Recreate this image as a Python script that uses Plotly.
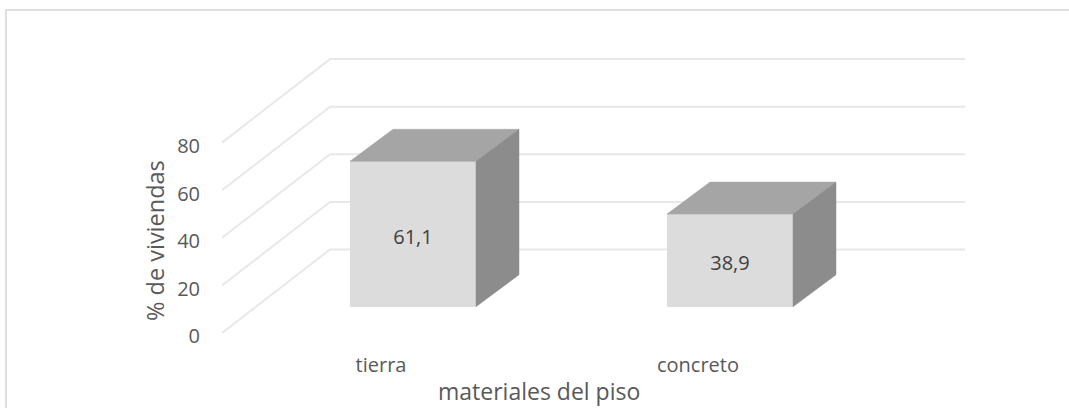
import plotly.graph_objects as go

categories = ["tierra", "concreto"]
vivienda_pct = [61.1, 38.9]
value_labels = ["61,1", "38,9"]
axis_ticks = [0, 20, 40, 60, 80]
x_title = "materiales del piso"
y_title = "% de viviendas"

W, H = 1069, 408
L, R, T, B = 222, 965, 40, 345
X_UNIT = 317.0
Y_UNIT = 2.38
X0_PX = 413.0
Y0_PX = 306.7

xr = [(L - X0_PX) / X_UNIT, (R - X0_PX) / X_UNIT]
yr = [(Y0_PX - B) / Y_UNIT, (Y0_PX - T) / Y_UNIT]

BAR_W = 126 / X_UNIT
DX, DY = 43 / X_UNIT, 32 / Y_UNIT
BACK_DY = (Y0_PX - 249.5) / Y_UNIT
FRONT_DY = (Y0_PX - 333.0) / Y_UNIT
CORNER_X = (330 - X0_PX) / X_UNIT
LABEL_SHIFT = -32 / X_UNIT
VALUE_LABEL_DROP = 5 / Y_UNIT

GRID = "#e8e8e8"
TEXT = "#595959"


def px_x(p):
    return (p - L) / (R - L)


def px_y(p):
    return (B - p) / (B - T)


xs = list(range(len(categories)))
fig = go.Figure()

fig.add_trace(go.Bar(
    x=xs, y=vivienda_pct, width=BAR_W,
    marker=dict(color="#dcdcdc", line=dict(width=0)),
    showlegend=False, hoverinfo="x+y",
))

for x, v in zip(xs, vivienda_pct):
    a, b = x - BAR_W / 2, x + BAR_W / 2
    fig.add_trace(go.Scatter(
        x=[a, b, b + DX, a + DX, a], y=[v, v, v + DY, v + DY, v],
        fill="toself", fillcolor="#a5a5a5", mode="lines",
        line=dict(width=0.5, color="#a5a5a5"), showlegend=False, hoverinfo="skip",
    ))
    fig.add_trace(go.Scatter(
        x=[b, b + DX, b + DX, b, b], y=[0, DY, v + DY, v, 0],
        fill="toself", fillcolor="#8c8c8c", mode="lines",
        line=dict(width=0.5, color="#8c8c8c"), showlegend=False, hoverinfo="skip",
    ))

fig.add_trace(go.Scatter(
    x=xs, y=[v / 2 - VALUE_LABEL_DROP for v in vivienda_pct], mode="text",
    text=value_labels, textposition="middle center",
    textfont=dict(family="Open Sans", size=20, color="#404040"),
    showlegend=False, hoverinfo="skip",
))

shapes = []
for t in axis_ticks:
    shapes.append(dict(
        type="path", xref="x", yref="y", layer="below",
        path=f"M {xr[0]} {t + FRONT_DY} L {CORNER_X} {t + BACK_DY} L {xr[1]} {t + BACK_DY}",
        line=dict(color=GRID, width=2),
    ))
shapes.append(dict(
    type="rect", xref="paper", yref="paper", layer="below",
    x0=px_x(6), x1=px_x(1090), y0=px_y(430), y1=px_y(10),
    line=dict(color="#dfdfdf", width=2),
))

annotations = [
    dict(text=x_title, xref="paper", yref="paper", x=px_x(539), y=px_y(391.5),
         xanchor="center", yanchor="middle", showarrow=False,
         font=dict(size=23, color=TEXT)),
    dict(text=y_title, xref="paper", yref="paper", x=px_x(155), y=px_y(241),
         xanchor="center", yanchor="middle", textangle=-90, showarrow=False,
         font=dict(size=23.5, color=TEXT)),
]

fig.update_layout(
    width=W, height=H,
    margin=dict(l=L, r=W - R, t=T, b=H - B, pad=0),
    plot_bgcolor="white", paper_bgcolor="white",
    bargap=0, shapes=shapes, annotations=annotations, showlegend=False,
    font=dict(family="Open Sans", color=TEXT, size=20),
    xaxis=dict(
        range=xr, showgrid=False, zeroline=False, showline=False,
        tickmode="array", tickvals=[x + LABEL_SHIFT for x in xs], ticktext=categories,
        ticks="outside", ticklen=2, tickcolor="rgba(0,0,0,0)",
        tickfont=dict(size=20, color=TEXT),
    ),
    yaxis=dict(
        range=yr, showgrid=False, zeroline=False, showline=False,
        tickmode="array", tickvals=[t + FRONT_DY - 1.4 for t in axis_ticks],
        ticktext=[str(t) for t in axis_ticks],
        ticks="outside", ticklen=17, tickcolor="rgba(0,0,0,0)",
        tickfont=dict(size=20, color=TEXT),
    ),
)

fig.write_html("out.html", config=dict(displayModeBar=False),
               post_script="document.body.style.margin='0';")
